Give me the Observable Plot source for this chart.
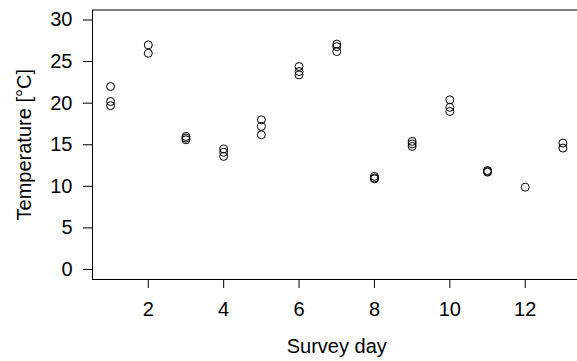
<!DOCTYPE html>
<html>
<head>
<meta charset="utf-8">
<script src="https://cdn.jsdelivr.net/npm/d3@7"></script>
<script src="https://cdn.jsdelivr.net/npm/@observablehq/plot@0.6"></script>
<style>
  html, body { margin: 0; padding: 0; background: #fff; }
  svg { display: block; }
</style>
</head>
<body>
<div id="chart"></div>
<script>
// Survey day for each observation
const days = [
  1, 1, 1,
  2, 2,
  3, 3, 3,
  4, 4, 4,
  5, 5, 5,
  6, 6, 6,
  7, 7, 7,
  8, 8, 8,
  9, 9, 9,
  10, 10, 10,
  11, 11, 11,
  12,
  13, 13
];
// Temperature [°C] for each observation
const temps = [
  22.0, 20.2, 19.7,
  27.0, 26.0,
  16.0, 15.8, 15.6,
  14.5, 14.1, 13.6,
  18.0, 17.2, 16.2,
  24.4, 23.8, 23.4,
  27.1, 26.8, 26.2,
  11.2, 11.0, 10.9,
  15.4, 15.1, 14.8,
  20.4, 19.5, 19.0,
  11.9, 11.8, 11.7,
  9.9,
  15.2, 14.6
];
const xTicks = [2, 4, 6, 8, 10, 12];
const yTicks = [0, 5, 10, 15, 20, 25, 30];
const xLimits = [0.52, 13.48];
const yLimits = [-1.2, 31.2];
const xTitle = "Survey day";
const yTitle = "Temperature [°C]";

const data = days.map((d, i) => ({day: d, temp: temps[i]}));

const chart = Plot.plot({
  width: 577,
  height: 361,
  marginLeft: 92,
  marginRight: -3.5,
  marginTop: 9.5,
  marginBottom: 82,
  style: {fontFamily: "'Liberation Sans', Arial, sans-serif", fontSize: "20px", color: "#000", background: "#fff"},
  x: {domain: xLimits},
  y: {domain: yLimits},
  marks: [
    Plot.frame({stroke: "#000", strokeWidth: 1}),
    Plot.axisX({ticks: xTicks, tickSize: 9, tickPadding: 13, tickFormat: d => String(d), fontSize: 20,
      label: xTitle, labelAnchor: "center", labelArrow: "none", labelOffset: 73}),
    Plot.axisY({ticks: yTicks, tickSize: 9, tickPadding: 11, tickFormat: d => String(d), fontSize: 20,
      label: yTitle, labelAnchor: "center", labelArrow: "none", labelOffset: 76}),
    Plot.dot(data, {x: "day", y: "temp", r: 4, stroke: "#000", strokeWidth: 1, fill: "none"})
  ]
});
document.getElementById("chart").appendChild(chart);
</script>
</body>
</html>
